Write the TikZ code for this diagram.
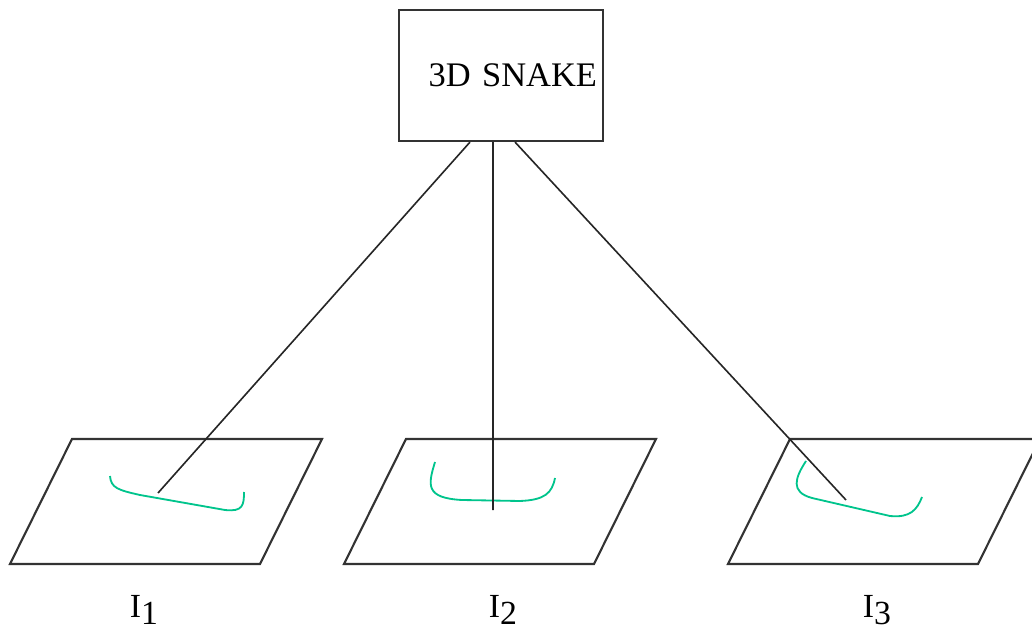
\documentclass[tikz,border=0pt]{standalone}
\usepackage{fontspec}
\setmainfont{Liberation Serif}
\usetikzlibrary{calc}

\definecolor{snakegreen}{RGB}{0,196,140}

\begin{document}
\begin{tikzpicture}[x=0.025cm, y=-0.025cm,
    % --- STYLES ---
    snakebox/.style={draw=black!80, line width=1.5pt, minimum width=5.1cm, minimum height=3.275cm, inner sep=0pt, text width=4.8cm, align=right, font=\fontsize{24.5}{28}\selectfont},
    plane/.style={draw=black!80, line width=1.5pt, line join=miter},
    link/.style={draw=black!85, line width=1.15pt},
    contour/.style={draw=snakegreen, line width=1.3pt},
    caption/.style={font=\fontsize{24}{28}\selectfont, inner sep=0pt}
]

    \useasboundingbox (0,0) rectangle (1032,635);
    \clip (0,0) rectangle (1032,635);

    % --- NODES ---
    \node[snakebox] (snake) at (501,75.5) {3D SNAKE};

    % image planes with captions
    \foreach \x/\c/\n in {10/144/1, 344/503/2, 728/877/3} {
        \draw[plane] (\x,564) -- ++(250,0) -- ++(62,-125) -- ++(-250,0) -- cycle;
        \node[caption] (cap\n) at (\c,610) {I\raisebox{-0.22em}{\n}};
    }

    % --- CONTOURS ---
    \draw[contour] (110,476) .. controls (111,488) and (118,490) .. (140,495) -- (225,510) .. controls (243,512) and (244,505) .. (244,492);
    \draw[contour] (435,462) .. controls (428,485) and (425,498) .. (462,500) -- (520,501) .. controls (545,500) and (552,493) .. (555,478);
    \draw[contour] (806,461) .. controls (795,478) and (790,492) .. (812,498) -- (890,516) .. controls (910,518) and (917,510) .. (922,497);

    % --- PROJECTIONS ---
    \coordinate (end1) at (158,493);
    \coordinate (end2) at (493,510);
    \coordinate (end3) at (846,500);

    \draw[link] ([xshift=-0.775cm]snake.south) -- (end1);
    \draw[link] ([xshift=-0.2cm]snake.south) -- (end2);
    \draw[link] ([xshift=0.35cm]snake.south) -- (end3);

\end{tikzpicture}
\end{document}
